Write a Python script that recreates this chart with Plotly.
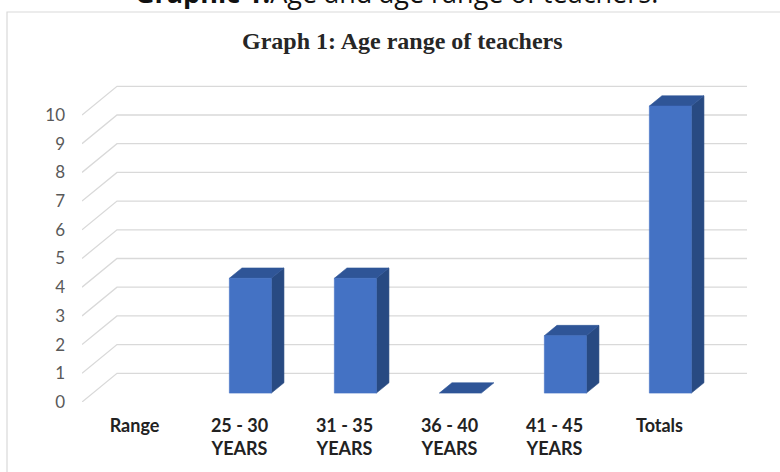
import plotly.graph_objects as go

# ---- data ----
categories = ["Range", "25 - 30<br>YEARS", "31 - 35<br>YEARS", "36 - 40<br>YEARS", "41 - 45<br>YEARS", "Totals"]
teachers = [None, 4, 4, 0, 2, 10]
y_ticks = list(range(0, 11))

title_text = "Graph 1: Age range of teachers"
caption_text = "<b>Graphic 1.</b>Age and age range of teachers."

# ---- layout geometry ----
W, H = 780, 472
ML, MR, MT, MB = 82, 33, 81, 70
PW, PH = W - ML - MR, H - MT - MB
n = len(categories)
DEPTH_X, DEPTH_Y = 1 / 3, 1.0          # oblique depth of the 3D box (data units)
X_RANGE = [-0.5, n - 0.5 + DEPTH_X]
Y_RANGE = [0, PH / 28.7]
BAR_HALF = 0.2
F_FRONT, F_BACK = 0.31, 0.67

GRID = "#D9D9D9"
FRONT = "#4472C4"
TOP = "#2F5597"
SIDE = "#284A82"


def px_to_paper_x(px):
    return (px - ML) / PW


def px_to_paper_y(py):
    return (H - MB - py) / PH


fig = go.Figure()

# perspective gridlines (front-left slant + back wall line)
for v in y_ticks:
    fig.add_trace(go.Scatter(
        x=[-0.5, -0.5 + DEPTH_X, n - 0.5 + DEPTH_X],
        y=[v, v + DEPTH_Y, v + DEPTH_Y],
        mode="lines", line=dict(color=GRID, width=1.3),
        hoverinfo="skip", showlegend=False))


def poly(xs, ys, color):
    fig.add_trace(go.Scatter(
        x=xs + [xs[0]], y=ys + [ys[0]], mode="lines", fill="toself",
        fillcolor=color, line=dict(color=color, width=0.6),
        hoverinfo="skip", showlegend=False))


for i, val in enumerate(teachers):
    if val is None:
        continue
    xl1 = i - BAR_HALF + F_FRONT * DEPTH_X
    xr1 = i + BAR_HALF + F_FRONT * DEPTH_X
    xl2 = i - BAR_HALF + F_BACK * DEPTH_X
    xr2 = i + BAR_HALF + F_BACK * DEPTH_X
    yb1 = F_FRONT * DEPTH_Y
    yb2 = F_BACK * DEPTH_Y
    yt1 = val + yb1
    yt2 = val + yb2
    if val > 0:
        poly([xr1, xr2, xr2, xr1], [yb1, yb2, yt2, yt1], SIDE)
    poly([xl1, xr1, xr2, xl2], [yt1, yt1, yt2, yt2], TOP)
    if val > 0:
        poly([xl1, xr1, xr1, xl1], [yb1, yb1, yt1, yt1], FRONT)

fig.update_layout(
    width=W, height=H,
    margin=dict(l=ML, r=MR, t=MT, b=MB, pad=0),
    paper_bgcolor="white", plot_bgcolor="white",
    hovermode=False,
    xaxis=dict(range=X_RANGE, tickvals=list(range(n)), ticktext=categories,
               showgrid=False, zeroline=False, showline=False, ticks="",
               tickfont=dict(family="Lato", size=18, color="#222222", weight="bold"),
               ticklabelstandoff=11, fixedrange=True),
    yaxis=dict(range=Y_RANGE, tickvals=y_ticks, ticktext=[str(v) for v in y_ticks],
               showgrid=False, zeroline=False, showline=False, ticks="",
               tickfont=dict(family="Lato", size=17, color="#595959"),
               ticklabelstandoff=16, fixedrange=True),
    shapes=[dict(type="rect", xref="paper", yref="paper",
                 x0=px_to_paper_x(7), x1=px_to_paper_x(W + 20),
                 y0=px_to_paper_y(H + 20), y1=px_to_paper_y(12),
                 line=dict(color="#D9D9D9", width=1.2), fillcolor="rgba(0,0,0,0)",
                 layer="below")],
    annotations=[
        dict(text=title_text, xref="paper", yref="paper",
             x=px_to_paper_x(402), y=px_to_paper_y(41), xanchor="center", yanchor="middle",
             showarrow=False,
             font=dict(family="Liberation Serif", size=24, color="#262626", weight="bold")),
        dict(text=caption_text, xref="paper", yref="paper",
             x=px_to_paper_x(396), y=px_to_paper_y(-8), xanchor="center", yanchor="middle",
             showarrow=False,
             font=dict(family="Open Sans", size=27, color="#111111")),
    ],
)

fig.write_html("out.html", config={"displayModeBar": False},
               post_script="document.body.style.margin='0';document.body.style.overflow='hidden';")
